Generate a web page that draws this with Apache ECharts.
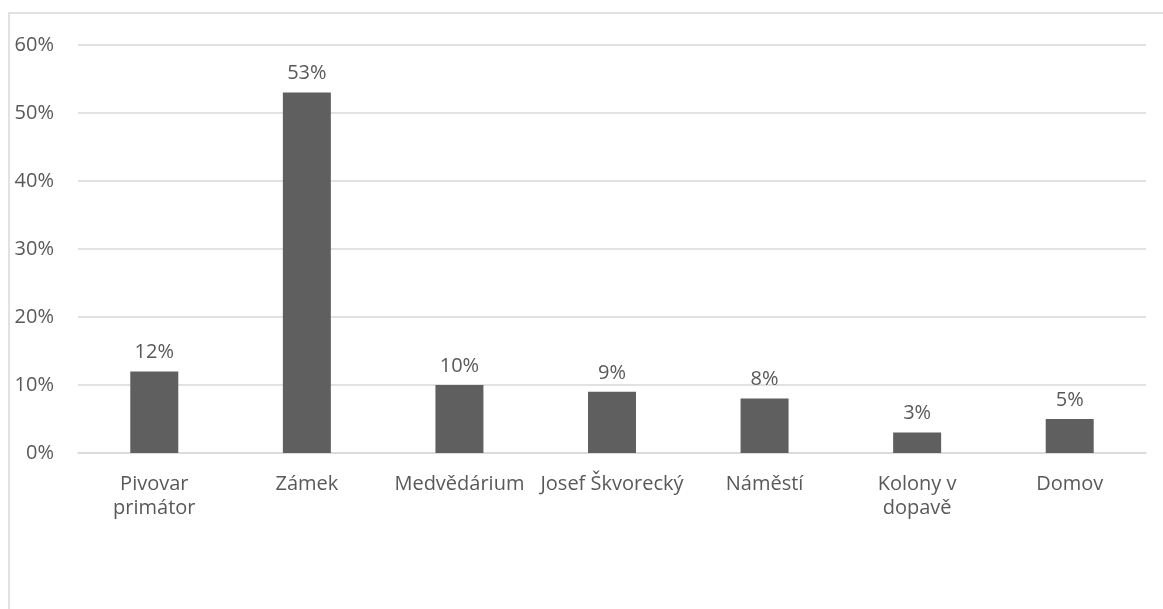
<!DOCTYPE html>
<html><head><meta charset="utf-8">
<script src="https://cdn.jsdelivr.net/npm/echarts@6/dist/echarts.min.js"></script>
<style>html,body{margin:0;padding:0;background:#fff}#c{width:1163px;height:609px}</style>
</head><body><div id="c"></div>
<script>
const categories = ['Pivovar\nprimátor', 'Zámek', 'Medvědárium', 'Josef Škvorecký', 'Náměstí', 'Kolony v\ndopavě', 'Domov'];
const values = [12, 53, 10, 9, 8, 3, 5];
const yTicks = [0, 10, 20, 30, 40, 50, 60];

const chart = echarts.init(document.getElementById('c'));
const font = '"Open Sans", sans-serif';
chart.setOption({
  animation: false,
  graphic: [{type: 'rect', shape: {x: 9, y: 13, width: 1300, height: 800}, style: {fill: 'none', stroke: '#d9d9d9', lineWidth: 1.5}, silent: true}],
  grid: {left: 78, right: 17, top: 45, bottom: 156},
  xAxis: {
    type: 'category', data: categories,
    axisLine: {lineStyle: {color: '#d9d9d9', width: 1.5}},
    axisTick: {show: false},
    axisLabel: {color: '#595959', fontFamily: font, fontSize: 20, lineHeight: 24, margin: 19, interval: 0}
  },
  yAxis: {
    type: 'value', min: yTicks[0], max: yTicks[yTicks.length - 1], interval: 10,
    axisLine: {show: false}, axisTick: {show: false},
    splitLine: {lineStyle: {color: '#d9d9d9', width: 1.5}},
    axisLabel: {color: '#595959', fontFamily: font, fontSize: 20, margin: 24, formatter: v => v + '%'}
  },
  series: [{
    type: 'bar', data: values, barWidth: 48,
    itemStyle: {color: '#5f5f5f'},
    label: {show: true, position: 'top', distance: 9, color: '#595959', fontFamily: font, fontSize: 20, formatter: p => p.value + '%'}
  }]
});
</script></body></html>
